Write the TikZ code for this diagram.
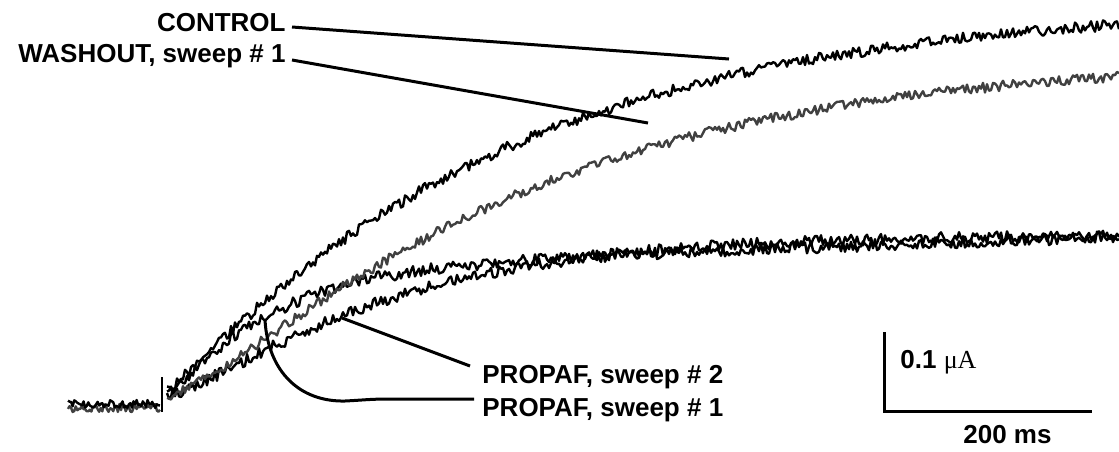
\documentclass[tikz,border=0pt]{standalone}
\usepackage{fontspec}
\setmainfont{Liberation Sans}
\newfontfamily\serifunit{Liberation Serif}
\usetikzlibrary{positioning}
\definecolor{washgray}{RGB}{64,64,64}
\tikzstyle{lbl} = [font=\fontsize{13}{15}\selectfont\bfseries, inner sep=0pt]
\tikzstyle{leader} = [line width=1.5pt]
\tikzstyle{trace} = [line width=1.2pt, line join=round]
\tikzstyle{gtrace} = [trace, draw=washgray]
\tikzstyle{scalebar} = [line width=1.5pt]

\begin{document}
\begin{tikzpicture}[x=0.5pt, y=-0.5pt]
\pgfmathsetseed{7}
\useasboundingbox (0,0) rectangle (1119,451);

% holding level and step
\draw [gtrace] plot[domain=68:160, samples=60, variable=\t] (\t, {408+4*rand});
\draw [trace] plot[domain=68:160, samples=60, variable=\t] (\t, {404+4*rand});
\draw [trace] (162,412) -- (162,377);

\draw [trace] plot[domain=167:1119, samples=477, variable=\t] (\t, {395-160*(1-exp(-(\t-165)/180))^1.5+6*rand});
\draw [trace] plot[domain=167:1119, samples=477, variable=\t] (\t, {395-125*(1-exp(-(\t-165)/90))^1.3-0.035*(\t-165)+6*rand});
\draw [gtrace] plot[domain=167:1119, samples=477, variable=\t] (\t, {397-340*(1-exp(-(\t-165)/300))^1.4+5*rand});
\draw [trace] plot[domain=167:1119, samples=477, variable=\t] (\t, {393-390*(1-exp(-(\t-165)/320))^1.1+5.5*rand});

\node (ctrl) [lbl, anchor=base east] at (286,31) {CONTROL};
\node (wash) [lbl, anchor=base east] at (286,62) {WASHOUT, sweep \# 1};
\node (prop2) [lbl, anchor=base west] at (482,383) {PROPAF, sweep \# 2};
\node (prop1) [lbl, anchor=base west] at (482,416) {PROPAF, sweep \# 1};

\coordinate (ctrltip) at (729,59);
\coordinate (washtip) at (648,123);
\coordinate (p2tip) at (342,318);
\coordinate (p1tip) at (265,320);

\draw [leader] ([shift={(6,-4)}]ctrl.base east) -- (ctrltip);
\draw [leader] ([shift={(6,-2)}]wash.base east) -- (washtip);
\draw [leader] (p2tip) -- ([shift={(-12,-17)}]prop2.base west);
\draw [leader] (p1tip) .. controls (268,372) and (300,402) .. (345,401) .. controls (365,400) and (370,399) .. (390,399) -- ([shift={(-8,-17)}]prop1.base west);

% scale bar
\coordinate (sbtop) at (884,332);
\coordinate (sbend) at (1092,411);
\draw [scalebar] (sbtop) |- (sbend);
\node (amp) [lbl, anchor=base west] at (900,368) {0.1 {\serifunit\mdseries μA}};
\node (ms) [lbl, anchor=base west] at (963,443) {200 ms};

\end{tikzpicture}
\end{document}
